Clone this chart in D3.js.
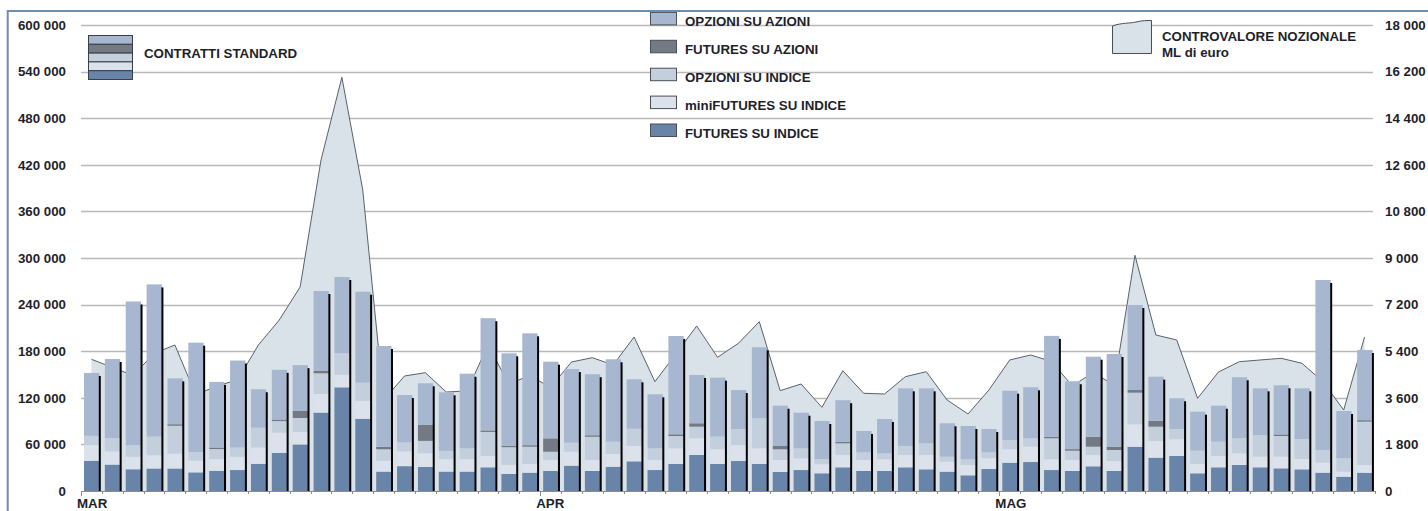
<!DOCTYPE html>
<html>
<head>
<meta charset="utf-8">
<script src="https://cdn.jsdelivr.net/npm/d3@7"></script>
<style>
  html, body { margin: 0; padding: 0; background: #ffffff; }
  svg { display: block; }
  text { font-family: "Liberation Sans", Arial, sans-serif; font-weight: bold; fill: #1e1f2b; }
</style>
</head>
<body>
<svg id="chart" width="1428" height="511"></svg>
<script>
// ---------------- DATA ----------------
const monthLabels = ["MAR", "APR", "MAG"];
const monthSessions = [22, 22, 18];

const leftTicks = [0, 60000, 120000, 180000, 240000, 300000, 360000, 420000, 480000, 540000, 600000];
const rightTicks = [0, 1800, 3600, 5400, 7200, 9000, 10800, 12600, 14400, 16200, 18000];

// contratti standard (stacked, bottom -> top)
const futuresIndice = [39000, 34000, 28000, 29000, 29000, 24000, 26000, 27000, 35000, 49000, 60000, 101000, 133500, 93000, 25000, 32000, 31000, 25000, 25000, 30500, 22000, 23600, 25800, 32600, 25800, 31300, 38200, 27000, 34800, 46400, 34800, 38600, 34800, 24500, 27000, 22800, 30500, 25800, 25800, 30500, 27900, 24900, 20200, 28300, 36400, 37300, 27000, 25800, 31800, 25800, 57000, 42900, 45100, 22800, 30500, 33500, 30500, 29200, 27900, 23600, 18400, 23600];
const miniFuturesIndice = [20000, 17000, 16000, 17000, 19000, 15000, 15000, 17000, 21000, 26000, 16000, 24000, 16000, 23000, 14000, 19000, 17600, 16000, 16000, 14500, 11600, 11200, 14000, 18000, 14000, 16300, 19800, 13000, 20200, 21500, 18900, 20600, 20200, 15400, 15100, 11600, 15900, 14100, 15000, 15900, 18500, 12800, 13300, 13800, 17300, 19700, 13800, 14100, 14600, 12800, 28900, 21500, 21500, 12000, 14600, 15000, 13700, 15000, 13300, 12800, 6500, 9900];
const opzioniIndice = [12000, 17000, 15000, 24000, 36000, 11000, 13000, 12000, 25500, 15000, 18000, 26500, 28000, 23500, 14700, 11600, 15900, 10700, 14000, 31000, 22800, 22200, 10700, 11600, 30000, 15900, 22200, 15000, 15800, 14900, 16300, 20600, 38600, 13800, 12900, 6800, 15000, 9900, 7700, 11600, 15000, 6500, 7300, 7700, 12000, 10900, 27100, 12000, 10600, 14200, 40700, 18400, 13200, 17100, 18400, 19400, 27900, 26600, 25800, 16400, 17200, 55700];
const futuresAzioni = [0, 0, 0, 0, 2000, 0, 2000, 0, 0, 2000, 9000, 3000, 0, 0, 3300, 0, 20600, 0, 0, 2000, 2000, 2000, 17300, 0, 2000, 0, 0, 0, 2200, 4400, 0, 0, 0, 4300, 0, 0, 2000, 0, 0, 0, 0, 0, 0, 0, 0, 0, 2000, 2000, 12900, 4200, 3400, 7700, 0, 0, 0, 0, 0, 2000, 0, 0, 0, 2000];
const opzioniAzioni = [81000, 102000, 185000, 196000, 59000, 141000, 84500, 112000, 49500, 64000, 59000, 103000, 98000, 117100, 129700, 61000, 53600, 75300, 96000, 144500, 118900, 144000, 98700, 94800, 78600, 106100, 63600, 69500, 126600, 62200, 75900, 50200, 91400, 51800, 45800, 48900, 53500, 27500, 44200, 74200, 70800, 43000, 42900, 30000, 63400, 65600, 129800, 87400, 103000, 119400, 109500, 56700, 39600, 50200, 46300, 78500, 60100, 63300, 65200, 218900, 60900, 90400];

// controvalore nozionale, ML di euro (right axis)
const controvalore = [5088, 4775, 4462, 5315, 5640, 3708, 4056, 4288, 5640, 6606, 7881, 12787, 15981, 11628, 3515, 4442, 4570, 3824, 3863, 5640, 4133, 4458, 4002, 4983, 5149, 4867, 5949, 4222, 5292, 6374, 5165, 5706, 6540, 3875, 4133, 3233, 4647, 3774, 3747, 4415, 4609, 3515, 2975, 3902, 5061, 5254, 5003, 4056, 4581, 4087, 9105, 6026, 5833, 3581, 4597, 4995, 5061, 5126, 4933, 4226, 3129, 5949];

const seriesKeys = ["futuresIndice", "miniFuturesIndice", "opzioniIndice", "futuresAzioni", "opzioniAzioni"];
const seriesNames = {
  opzioniAzioni: "OPZIONI SU AZIONI",
  futuresAzioni: "FUTURES SU AZIONI",
  opzioniIndice: "OPZIONI SU INDICE",
  miniFuturesIndice: "miniFUTURES SU INDICE",
  futuresIndice: "FUTURES SU INDICE"
};
const seriesColors = {
  futuresIndice: "#6884a9",
  miniFuturesIndice: "#dbe2eb",
  opzioniIndice: "#c3cfdd",
  futuresAzioni: "#737a83",
  opzioniAzioni: "#a6b7cf"
};
const legendOrder = ["opzioniAzioni", "futuresAzioni", "opzioniIndice", "miniFuturesIndice", "futuresIndice"];

// ---------------- BUILD ----------------
const categories = [];
const monthStarts = [];
monthLabels.forEach((m, mi) => {
  monthStarts.push(categories.length);
  for (let k = 0; k < monthSessions[mi]; k++) categories.push(m + "-" + (k + 1));
});

const table = categories.map((c, i) => ({
  cat: c,
  futuresIndice: futuresIndice[i],
  miniFuturesIndice: miniFuturesIndice[i],
  opzioniIndice: opzioniIndice[i],
  futuresAzioni: futuresAzioni[i],
  opzioniAzioni: opzioniAzioni[i]
}));

const svg = d3.select("#chart");
const W = 1428, H = 511;
const plotL = 81, plotR = 1375, plotT = 25, plotB = 491;

svg.append("rect").attr("width", W).attr("height", H).attr("fill", "#ffffff");

const x = d3.scaleBand().domain(categories).range([plotL, plotR]).paddingInner(0).paddingOuter(0);
const yL = d3.scaleLinear().domain([0, 600000]).range([plotB, plotT]);
const yR = d3.scaleLinear().domain([0, 18000]).range([plotB, plotT]);
const fmt = d3.formatLocale({ decimal: ",", thousands: " ", grouping: [3], currency: ["", "€"] }).format(",d");

// gridlines
svg.append("g").selectAll("line").data(leftTicks.filter(t => t > 0)).join("line")
  .attr("x1", plotL).attr("x2", plotR - 2)
  .attr("y1", d => Math.round(yL(d)) + 0.5).attr("y2", d => Math.round(yL(d)) + 0.5)
  .attr("stroke", "#b9b9b9").attr("stroke-width", 1.3);

// area (controvalore)
const area = d3.area()
  .x((d, i) => x(categories[i]) + x.bandwidth() / 2)
  .y0(yR(0))
  .y1(d => yR(d));
svg.append("path").datum(controvalore)
  .attr("d", area)
  .attr("fill", "#d9e1e9");
const line = d3.line()
  .x((d, i) => x(categories[i]) + x.bandwidth() / 2)
  .y(d => yR(d));
svg.append("path").datum(controvalore)
  .attr("d", line)
  .attr("fill", "none").attr("stroke", "#59616b").attr("stroke-width", 1);

// stacked bars
const stack = d3.stack().keys(seriesKeys);
const stacked = stack(table);
const barOff = 3, barW = x.bandwidth() * 0.733;

const gBars = svg.append("g");
stacked.forEach(s => {
  gBars.append("g").attr("fill", seriesColors[s.key])
    .selectAll("rect").data(s).join("rect")
    .attr("x", d => x(d.data.cat) + barOff)
    .attr("width", barW)
    .attr("y", d => yL(d[1]))
    .attr("height", d => Math.max(0, yL(d[0]) - yL(d[1])));
});
// shadows at right edge
const totals = table.map(d => seriesKeys.reduce((a, k) => a + d[k], 0));
gBars.append("g").selectAll("rect").data(table).join("rect")
  .attr("x", d => x(d.cat) + barOff + barW - 0.5)
  .attr("width", 2)
  .attr("y", (d, i) => yL(totals[i]) + 3)
  .attr("height", (d, i) => yL(0) - yL(totals[i]) - 3)
  .attr("fill", "#000000");

// baseline + ticks
svg.append("line").attr("x1", plotL).attr("x2", plotR)
  .attr("y1", plotB + 0.5).attr("y2", plotB + 0.5)
  .attr("stroke", "#8c8c8c").attr("stroke-width", 1);
const tickPos = categories.map(c => x(c)).concat([plotR]);
svg.append("g").selectAll("line").data(tickPos).join("line")
  .attr("x1", d => Math.round(d) + 0.5).attr("x2", d => Math.round(d) + 0.5)
  .attr("y1", plotB).attr("y2", plotB + 3)
  .attr("stroke", "#8c8c8c").attr("stroke-width", 1);
svg.append("g").selectAll("line").data(monthStarts).join("line")
  .attr("x1", d => Math.round(x(categories[d])) + 0.5).attr("x2", d => Math.round(x(categories[d])) + 0.5)
  .attr("y1", plotB).attr("y2", plotB + 5)
  .attr("stroke", "#8c8c8c").attr("stroke-width", 1);

// month labels
svg.append("g").selectAll("text").data(monthStarts).join("text")
  .attr("x", d => x(categories[d]) - 4)
  .attr("y", 508)
  .attr("font-size", 13.3)
  .text((d, i) => monthLabels[i]);

// left axis labels
svg.append("g").selectAll("text").data(leftTicks).join("text")
  .attr("x", 66).attr("y", d => yL(d) + 4.7)
  .attr("text-anchor", "end").attr("font-size", 13.3)
  .text(d => fmt(d));
// right axis labels
svg.append("g").selectAll("text").data(rightTicks).join("text")
  .attr("x", 1385).attr("y", d => yR(d) + 4.7)
  .attr("text-anchor", "start").attr("font-size", 13.3)
  .text(d => fmt(d));

// legend left: contratti standard icon
const gl = svg.append("g");
legendOrder.forEach((k, j) => {
  gl.append("rect").attr("x", 88.5).attr("y", 35.5 + j * 8.8).attr("width", 44).attr("height", 8.8)
    .attr("fill", seriesColors[k]).attr("stroke", "#3a3f47").attr("stroke-width", 1);
});
gl.append("text").attr("x", 144).attr("y", 58.3).attr("font-size", 13.3).text("CONTRATTI STANDARD");

// legend middle
const gm = svg.append("g");
legendOrder.forEach((k, j) => {
  const base = 26 + j * 27.9;
  gm.append("rect").attr("x", 650.5).attr("y", base - 13.6).attr("width", 26).attr("height", 12.5)
    .attr("fill", seriesColors[k]).attr("stroke", "#4a4f57").attr("stroke-width", 1);
  gm.append("text").attr("x", 685).attr("y", base).attr("font-size", 13.3).text(seriesNames[k]);
});

// legend right: controvalore icon
const gr = svg.append("g");
gr.append("path")
  .attr("d", "M1112.5,53.5 L1112.5,26 C1122,22.5 1130,23.5 1136,22 C1142,20.5 1147,20.5 1151.5,20.5 L1151.5,53.5 Z")
  .attr("fill", "#d9e1e9").attr("stroke", "#4a4f57").attr("stroke-width", 1);
gr.append("text").attr("x", 1162).attr("y", 40.7).attr("font-size", 13.3).text("CONTROVALORE NOZIONALE");
gr.append("text").attr("x", 1162).attr("y", 57.3).attr("font-size", 13.3).text("ML di euro");

// frame
svg.append("rect").attr("x", 7.7).attr("y", 11).attr("width", 1440).attr("height", 540)
  .attr("fill", "none").attr("stroke", "#6e8db3").attr("stroke-width", 2);
</script>
</body>
</html>
